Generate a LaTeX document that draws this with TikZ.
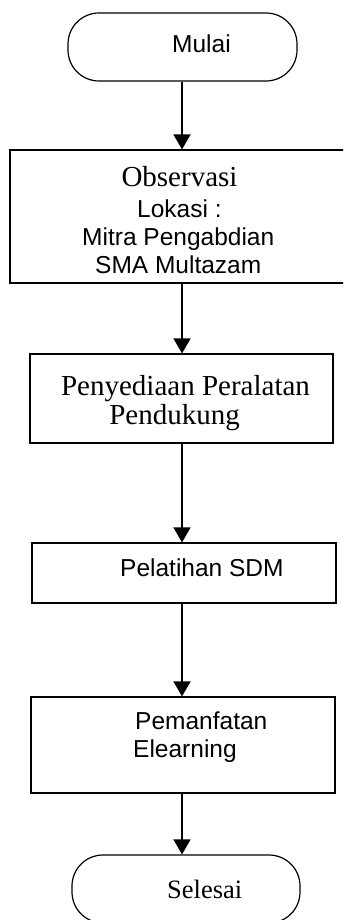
\documentclass[tikz,border=0pt]{standalone}
\usepackage{fontspec}
\setmainfont{Liberation Serif}
\newfontfamily\arialf{Liberation Sans}
\usetikzlibrary{arrows.meta}
\begin{document}
\begin{tikzpicture}[x=1pt,y=-1pt,
  boxst/.style={draw=black,line width=1.2pt,rectangle,inner sep=0pt,anchor=center},
  termst/.style={boxst,rounded corners=31pt},
  arr/.style={line width=1.6pt,-{Triangle[width=17pt,length=15pt]}},
  sanst/.style={inner sep=0pt,font=\arialf\fontsize{24.5}{28}\selectfont},
  serst/.style={inner sep=0pt,font=\fontsize{29}{31}\selectfont}]
\clip (0,0) rectangle (343,920);
\fill[white] (0,0) rectangle (343,920);
% shapes
\node[termst,minimum width=229pt,minimum height=68pt] (start) at (182.5,47) {};
\node[boxst,minimum width=335pt,minimum height=133pt] (obs) at (177.5,216.5) {};
\node[boxst,minimum width=303pt,minimum height=89pt] (prov) at (181.5,398.5) {};
\node[boxst,minimum width=304pt,minimum height=60pt] (train) at (184,573) {};
\node[boxst,minimum width=304pt,minimum height=96pt] (use) at (183,745) {};
\node[termst,minimum width=228pt,minimum height=68pt] (stop) at (186,889) {};
\coordinate (ax) at (182,0);
% connectors
\draw[arr] (start.south -| ax) -- (obs.north -| ax);
\draw[arr] (obs.south -| ax) -- (prov.north -| ax);
\draw[arr] (prov.south -| ax) -- (train.north -| ax);
\draw[arr] (train.south -| ax) -- (use.north -| ax);
\draw[arr] (use.south -| ax) -- (stop.north -| ax);
% texts
\node[sanst,anchor=base west] (t1) at (172,53) {Mulai};
\node[serst,anchor=base] (t2) at (179.5,186) {Observasi};
\node[sanst,anchor=base west] (t3) at (137,217) {Lokasi :};
\node[sanst,anchor=base west] (t4) at (82,245) {Mitra Pengabdian};
\node[sanst,anchor=base west] (t5) at (95,273) {SMA Multazam};
\node[serst,anchor=base] (t6) at (185.5,395) {Penyediaan Peralatan};
\node[serst,anchor=base] (t7) at (174.5,424) {Pendukung};
\node[sanst,anchor=base west] (t8) at (120,576) {Pelatihan SDM};
\node[sanst,anchor=base west] (t9) at (135,729) {Pemanfatan};
\node[sanst,anchor=base west] (t10) at (133,757) {Elearning};
\node[serst,anchor=base west,font=\fontsize{26.5}{30}\selectfont] (t11) at (167,898) {Selesai};
\end{tikzpicture}
\end{document}
